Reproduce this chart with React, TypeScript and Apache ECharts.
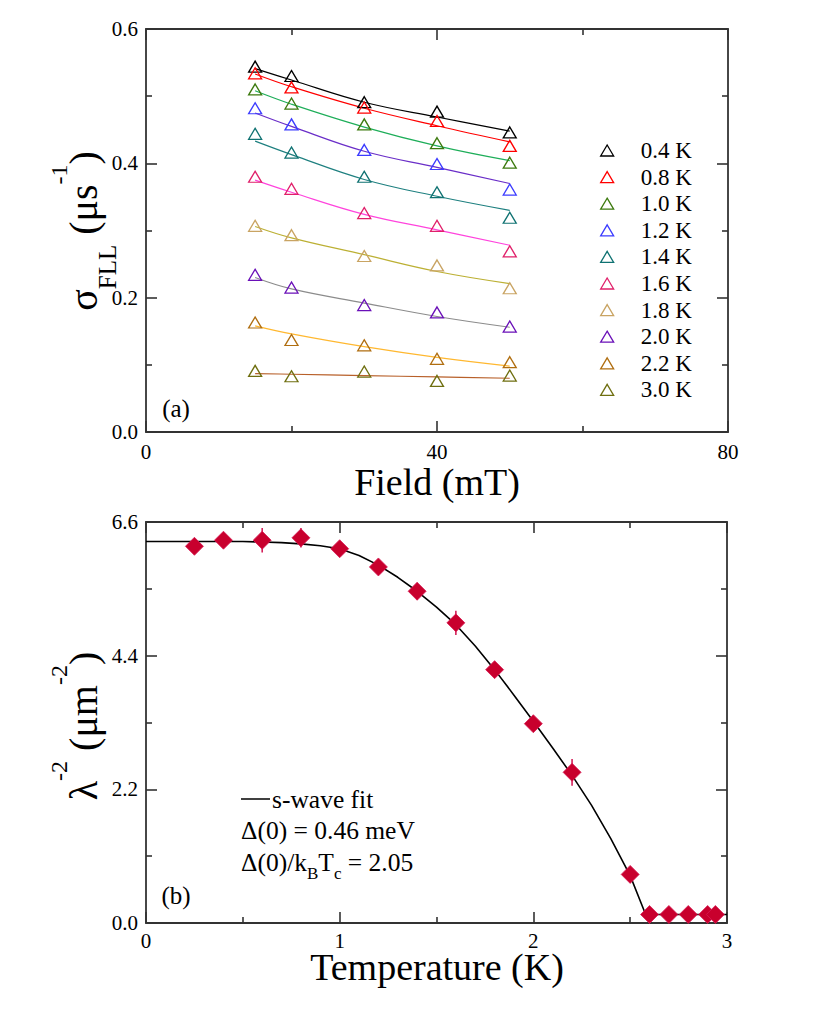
import React, { useEffect, useRef } from "react";
import * as echarts from "echarts";

const FONT = "'Liberation Serif', 'Times New Roman', serif";

// ---------- Panel (a): sigma_FLL vs field ----------
const fieldValues = [15, 20, 30, 40, 50];
const tempLabels = ["0.4 K", "0.8 K", "1.0 K", "1.2 K", "1.4 K", "1.6 K", "1.8 K", "2.0 K", "2.2 K", "3.0 K"];
const markerColors = ["#000000", "#ff0000", "#3d7a0f", "#3c3cff", "#0f7272", "#e0206a", "#c9a463", "#6a10b8", "#b06e10", "#6f6f10"];
const fitColors = ["#000000", "#ff0000", "#1fae5a", "#6a2ec8", "#1f8080", "#ff44dd", "#bcb034", "#8c8c8c", "#ffb830", "#b8602a"];

const sigma04 = [0.544, 0.530, 0.491, 0.477, 0.446];
const sigma08 = [0.534, 0.513, 0.483, 0.463, 0.426];
const sigma10 = [0.510, 0.489, 0.458, 0.430, 0.401];
const sigma12 = [0.482, 0.458, 0.420, 0.399, 0.361];
const sigma14 = [0.444, 0.416, 0.380, 0.357, 0.319];
const sigma16 = [0.380, 0.362, 0.326, 0.307, 0.269];
const sigma18 = [0.307, 0.293, 0.262, 0.248, 0.214];
const sigma20 = [0.234, 0.215, 0.189, 0.178, 0.157];
const sigma22 = [0.163, 0.137, 0.129, 0.109, 0.104];
const sigma30 = [0.091, 0.083, 0.090, 0.076, 0.084];

const fit04 = [0.541, 0.524, 0.491, 0.469, 0.448];
const fit08 = [0.533, 0.514, 0.482, 0.456, 0.432];
const fit10 = [0.508, 0.488, 0.454, 0.426, 0.404];
const fit12 = [0.475, 0.455, 0.418, 0.394, 0.370];
const fit14 = [0.433, 0.413, 0.376, 0.351, 0.330];
const fit16 = [0.375, 0.357, 0.324, 0.301, 0.278];
const fit18 = [0.306, 0.289, 0.264, 0.239, 0.221];
const fit20 = [0.230, 0.213, 0.192, 0.172, 0.156];
const fit22 = [0.158, 0.146, 0.127, 0.111, 0.098];
const fit30 = [0.087, 0.086, 0.084, 0.082, 0.080];

const sigmaSets = [sigma04, sigma08, sigma10, sigma12, sigma14, sigma16, sigma18, sigma20, sigma22, sigma30];
const fitSets = [fit04, fit08, fit10, fit12, fit14, fit16, fit18, fit20, fit22, fit30];

// ---------- Panel (b): lambda^-2 vs temperature ----------
const temps = [0.25, 0.4, 0.6, 0.8, 1.0, 1.2, 1.4, 1.6, 1.8, 2.0, 2.2, 2.5, 2.6, 2.7, 2.8, 2.9, 2.94];
const lambdaInv2 = [6.20, 6.30, 6.30, 6.34, 6.16, 5.86, 5.46, 4.94, 4.17, 3.28, 2.48, 0.80, 0.14, 0.14, 0.14, 0.14, 0.14];
const lambdaErr = [0.05, 0.05, 0.20, 0.16, 0.07, 0.05, 0.14, 0.20, 0.07, 0.05, 0.22, 0.05, 0.03, 0.03, 0.03, 0.03, 0.03];
const fitTemps = [0, 0.1, 0.2, 0.3, 0.4, 0.5, 0.6, 0.7, 0.8, 0.9, 1.0, 1.1, 1.2, 1.3, 1.4, 1.5, 1.6, 1.7, 1.8, 1.9, 2.0, 2.1, 2.2, 2.3, 2.4, 2.5, 2.58, 3.0];
const fitLambda = [6.28, 6.28, 6.28, 6.28, 6.28, 6.28, 6.27, 6.26, 6.24, 6.21, 6.16, 6.05, 5.89, 5.69, 5.46, 5.20, 4.91, 4.56, 4.17, 3.75, 3.32, 2.88, 2.43, 1.94, 1.39, 0.78, 0.14, 0.14];

const AXIS_COLOR = "#333";

function makeX(gridIndex: number, position: "bottom" | "top", min: number, max: number, interval: number, showLabel: boolean, margin: number) {
  return {
    type: "value",
    gridIndex,
    position,
    min,
    max,
    interval,
    axisLine: { show: true, onZero: false, lineStyle: { color: AXIS_COLOR, width: 1.8 } },
    axisTick: { show: true, inside: true, length: 11, lineStyle: { color: AXIS_COLOR, width: 1.6 } },
    minorTick: { show: true, splitNumber: 2, length: 6, lineStyle: { color: AXIS_COLOR, width: 1.6 } },
    axisLabel: { show: showLabel, fontFamily: FONT, fontSize: 21, color: "#000", margin, lineHeight: 21 },
    splitLine: { show: false },
    minorSplitLine: { show: false },
  };
}

function makeY(gridIndex: number, position: "left" | "right", min: number, max: number, interval: number, showLabel: boolean) {
  return {
    type: "value",
    gridIndex,
    position,
    min,
    max,
    interval,
    axisLine: { show: true, onZero: false, lineStyle: { color: AXIS_COLOR, width: 1.8 } },
    axisTick: { show: true, inside: true, length: 11, lineStyle: { color: AXIS_COLOR, width: 1.6 } },
    minorTick: { show: true, splitNumber: 2, length: 6, lineStyle: { color: AXIS_COLOR, width: 1.6 } },
    axisLabel: {
      show: showLabel,
      fontFamily: FONT,
      fontSize: 21,
      color: "#000",
      margin: 8,
      formatter: (v: number) => v.toFixed(1),
    },
    splitLine: { show: false },
    minorSplitLine: { show: false },
  };
}

export default function App() {
  const ref = useRef<HTMLDivElement>(null);

  useEffect(() => {
    if (!ref.current) return;
    const chart = echarts.init(ref.current, undefined, { renderer: "svg" });

    const series: any[] = [];
    sigmaSets.forEach((vals, i) => {
      series.push({
        name: "fit " + tempLabels[i],
        type: "line",
        xAxisIndex: 0,
        yAxisIndex: 0,
        data: fieldValues.map((f, j) => [f, fitSets[i][j]]),
        smooth: 0.4,
        showSymbol: false,
        symbol: "none",
        lineStyle: { color: fitColors[i], width: 1.2 },
        z: 2,
        silent: true,
      });
    });
    sigmaSets.forEach((vals, i) => {
      series.push({
        name: tempLabels[i],
        type: "scatter",
        xAxisIndex: 0,
        yAxisIndex: 0,
        symbol: "triangle",
        symbolSize: [13, 11],
        data: fieldValues.map((f, j) => [f, vals[j]]),
        itemStyle: { color: "transparent", borderColor: markerColors[i], borderWidth: 1.3, opacity: 1 },
        z: 3,
      });
    });

    series.push({
      name: "s-wave fit",
      type: "line",
      xAxisIndex: 2,
      yAxisIndex: 2,
      data: fitTemps.map((t, i) => [t, fitLambda[i]]),
      smooth: false,
      showSymbol: false,
      symbol: "none",
      lineStyle: { color: "#000", width: 1.6 },
      z: 2,
    });
    series.push({
      name: "errors",
      type: "custom",
      xAxisIndex: 2,
      yAxisIndex: 2,
      data: temps.map((t, i) => [t, lambdaInv2[i] - lambdaErr[i], lambdaInv2[i] + lambdaErr[i]]),
      encode: { x: 0, y: [1, 2] },
      renderItem: (params: any, api: any) => {
        const lo = api.coord([api.value(0), api.value(1)]);
        const hi = api.coord([api.value(0), api.value(2)]);
        return {
          type: "line",
          shape: { x1: lo[0], y1: lo[1], x2: hi[0], y2: hi[1] },
          style: { stroke: "#d4205a", lineWidth: 1.6 },
        };
      },
      z: 3,
    });
    series.push({
      name: "lambda",
      type: "scatter",
      xAxisIndex: 2,
      yAxisIndex: 2,
      symbol: "diamond",
      symbolSize: 18,
      data: temps.map((t, i) => [t, lambdaInv2[i]]),
      itemStyle: { color: "#c8002d", borderColor: "#d81c55", borderWidth: 0.8, opacity: 1 },
      z: 4,
    });

    const option: any = {
      animation: false,
      backgroundColor: "#fff",
      grid: [
        { left: 146, top: 29, width: 582, height: 403, containLabel: false },
        { left: 146, top: 522, width: 581, height: 401, containLabel: false },
      ],
      xAxis: [
        makeX(0, "bottom", 0, 80, 40, true, 9),
        makeX(0, "top", 0, 80, 40, false, 9),
        makeX(1, "bottom", 0, 3, 1, true, 7),
        makeX(1, "top", 0, 3, 1, false, 7),
      ],
      yAxis: [
        makeY(0, "left", 0, 0.6, 0.2, true),
        makeY(0, "right", 0, 0.6, 0.2, false),
        makeY(1, "left", 0, 6.6, 2.2, true),
        makeY(1, "right", 0, 6.6, 2.2, false),
      ],
      legend: {
        data: tempLabels.map((name, i) => ({
          name,
          icon: "triangle",
          itemStyle: { color: "transparent", borderColor: markerColors[i], borderWidth: 1.3 },
        })),
        orient: "vertical",
        left: 595,
        top: 134,
        itemWidth: 13,
        itemHeight: 11,
        itemGap: 3.6,
        selectedMode: false,
        textStyle: { fontFamily: FONT, fontSize: 23, color: "#000", lineHeight: 22, padding: [0, 0, 0, 22] },
      },
      graphic: [
        {
          type: "text",
          x: 437,
          y: 482,
          style: { text: "Field (mT)", fontFamily: FONT, fontSize: 38, fill: "#000", textAlign: "center", textVerticalAlign: "middle" },
        },
        {
          type: "text",
          x: 437,
          y: 967,
          style: { text: "Temperature (K)", fontFamily: FONT, fontSize: 38, fill: "#000", textAlign: "center", textVerticalAlign: "middle" },
        },
        {
          type: "text",
          x: 83,
          y: 231,
          rotation: Math.PI / 2,
          style: {
            text: "{m|σ}{s|FLL}{m| (μs}{p|-1}{m|)}",
            textAlign: "center",
            textVerticalAlign: "middle",
            fill: "#000",
            rich: {
              m: { fontFamily: FONT, fontSize: 40, lineHeight: 73, fill: "#000" },
              s: { fontFamily: FONT, fontSize: 25, lineHeight: 56, verticalAlign: "bottom", fill: "#000" },
              p: { fontFamily: FONT, fontSize: 24, lineHeight: 24, verticalAlign: "top", fill: "#000" },
            },
          },
        },
        {
          type: "text",
          x: 83,
          y: 726,
          rotation: Math.PI / 2,
          style: {
            text: "{m|λ}{p|-2}{m| (μm}{p|-2}{m|)}",
            textAlign: "center",
            textVerticalAlign: "middle",
            fill: "#000",
            rich: {
              m: { fontFamily: FONT, fontSize: 40, lineHeight: 73, fill: "#000" },
              p: { fontFamily: FONT, fontSize: 24, lineHeight: 24, verticalAlign: "top", fill: "#000" },
            },
          },
        },
        {
          type: "text",
          x: 176,
          y: 408,
          style: { text: "(a)", fontFamily: FONT, fontSize: 25, fill: "#000", textAlign: "center", textVerticalAlign: "middle" },
        },
        {
          type: "text",
          x: 176,
          y: 895,
          style: { text: "(b)", fontFamily: FONT, fontSize: 25, fill: "#000", textAlign: "center", textVerticalAlign: "middle" },
        },
        {
          type: "line",
          shape: { x1: 241, y1: 799, x2: 270, y2: 799 },
          style: { stroke: "#000", lineWidth: 1.5 },
        },
        {
          type: "text",
          x: 272,
          y: 799,
          style: { text: "s-wave fit", fontFamily: FONT, fontSize: 25.5, fill: "#000", textAlign: "left", textVerticalAlign: "middle" },
        },
        {
          type: "text",
          x: 241,
          y: 830,
          style: { text: "Δ(0) = 0.46 meV", fontFamily: FONT, fontSize: 25.5, fill: "#000", textAlign: "left", textVerticalAlign: "middle" },
        },
        {
          type: "text",
          x: 241,
          y: 862,
          style: {
            text: "{n|Δ(0)/k}{b|B}{n|T}{b|c}{n| = 2.05}",
            textAlign: "left",
            textVerticalAlign: "middle",
            fill: "#000",
            rich: {
              n: { fontFamily: FONT, fontSize: 25.5, lineHeight: 40, fill: "#000" },
              b: { fontFamily: FONT, fontSize: 17, lineHeight: 23, verticalAlign: "bottom", fill: "#000" },
            },
          },
        },
      ],
      series,
    };

    chart.setOption(option);
    return () => chart.dispose();
  }, []);

  return <div ref={ref} style={{ position: "absolute", left: 0, top: 0, width: 830, height: 1030 }} />;
}
